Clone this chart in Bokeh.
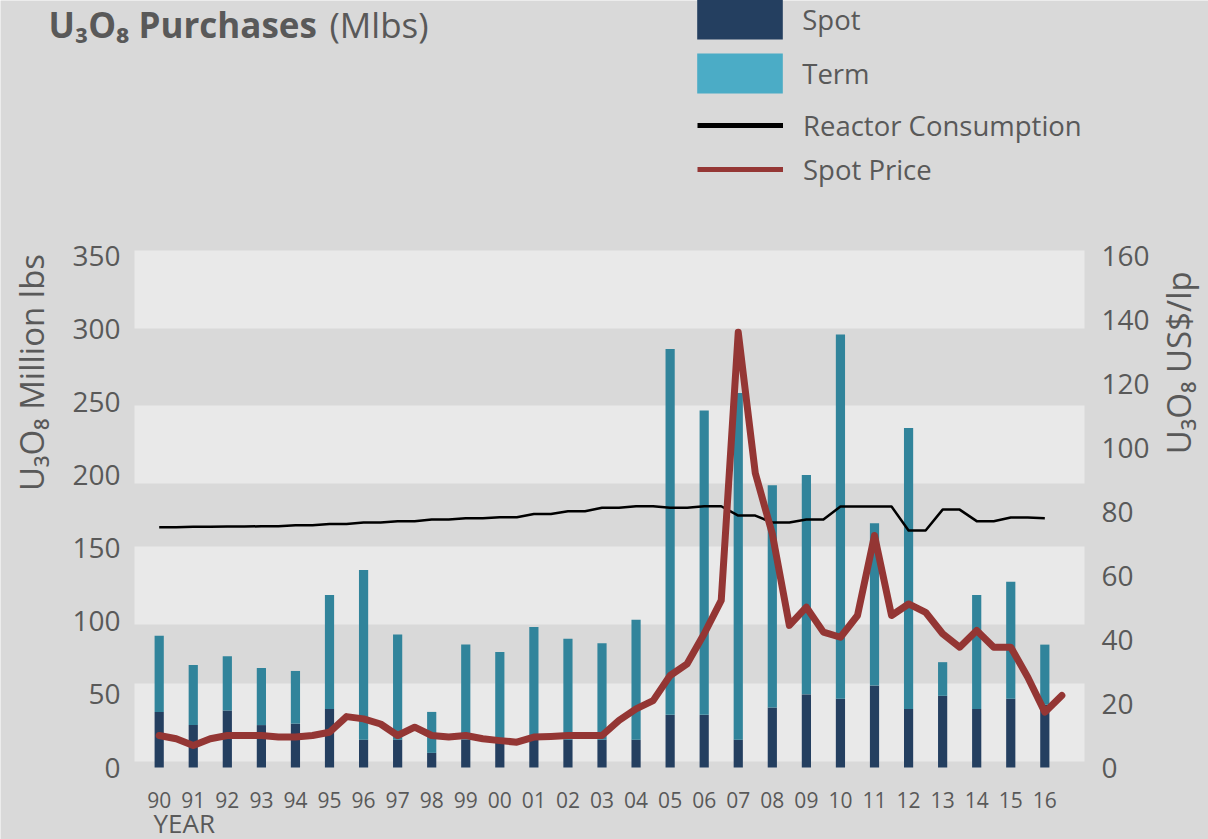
import math
import numpy as np
from bokeh.plotting import figure
from bokeh.models import Range1d, Label, Legend, LegendItem
from bokeh.embed import file_html
from bokeh.resources import INLINE

# ---------------- data ----------------
years = ["90", "91", "92", "93", "94", "95", "96", "97", "98", "99",
         "00", "01", "02", "03", "04", "05", "06", "07", "08", "09",
         "10", "11", "12", "13", "14", "15", "16"]
spot = [38, 29, 39, 29, 30, 40, 19, 19, 10, 19,
        17, 19, 19, 19, 19, 36, 36, 19, 41, 50,
        47, 56, 40, 49, 40, 47, 43]
term = [52, 41, 37, 39, 36, 78, 116, 72, 28, 65,
        62, 77, 69, 66, 82, 250, 208, 237, 152, 150,
        249, 111, 192, 23, 78, 80, 41]
reactor = [164.2, 164.5, 164.7, 164.9, 165.6, 166.5, 167.5, 168.4, 169.5, 170.4,
           171.1, 173.3, 175.2, 177.5, 178.6, 177.5, 178.6, 172.2, 167.5, 169.5,
           178.4, 178.4, 162.0, 176.3, 168.4, 170.9, 170.4]
# spot price, half-yearly (90.0, 90.5, ... 16.5), US$/lb
spot_price = [10.0, 9.0, 6.9, 9.0, 10.0, 10.0, 10.0, 9.5, 9.5, 10.0,
              11.0, 15.9, 15.2, 13.6, 10.0, 12.6, 10.0, 9.5, 10.0, 9.0,
              8.4, 7.9, 9.5, 9.7, 10.0, 10.0, 10.0, 14.7, 18.3, 20.9,
              28.75, 32.4, 41.8, 52.2, 136.0, 92.0, 73.0, 44.4, 50.1, 42.3,
              40.7, 47.5, 72.5, 47.5, 51.1, 48.5, 41.8, 37.6, 42.8, 37.6,
              37.6, 28.2, 17.3, 22.5]
left_ticks = [0, 50, 100, 150, 200, 250, 300, 350]
right_ticks = [0, 20, 40, 60, 80, 100, 120, 140, 160]

# ---------------- styling / layout ----------------
BG = "#d9d9d9"
BAND_LIGHT = "#e9e9e9"
TXT = "#595959"
SPOT_C = "#243f60"
TERM_C = "#31849b"
TERM_LEG = "#4bacc6"
PRICE_C = "#943634"
FONT = "Open Sans"

W, H = 1208, 839
XS, XE = -0.725, 27.165            # category span of the plotting area
FL, FR, FT, FB = 134, 1084, 255, 767  # plotting area in page px
DX = (FR - FL) / (XE - XS)          # px per category
DYL = (FB - FT) / 350.0             # px per Mlbs
DYR = (FB - FT) / 160.0             # px per US$

def px2x(px):
    return XS + (px - FL) / DX

def py2y(py):
    return (FB - py) / DYL

p = figure(width=W, height=H, x_axis_type=None, y_axis_type=None,
           x_range=Range1d(px2x(0), px2x(W)), y_range=Range1d(py2y(H), py2y(0)),
           output_backend="svg", toolbar_location=None, min_border=0)
p.extra_y_ranges = {"price": Range1d((FB - H) / DYR, FB / DYR)}
p.background_fill_color = BG
p.border_fill_color = BG
p.outline_line_color = None

# light background bands of the plotting area (page px edges of the light bands)
band_top_px = [250, 405, 546, 683]
band_bot_px = [328, 483, 624, 761]
p.quad(left=XS, right=XE, top=[py2y(v) for v in band_top_px],
       bottom=[py2y(v) for v in band_bot_px], fill_color=BAND_LIGHT, line_color=None)

idx = np.arange(len(years))
spot_a = np.array(spot, dtype=float)
term_a = np.array(term, dtype=float)

p.vbar(x=idx, bottom=0, top=spot_a, width=0.27, fill_color=SPOT_C, line_color=None)
p.vbar(x=idx, bottom=spot_a, top=spot_a + term_a, width=0.27, fill_color=TERM_C, line_color=None)

# reactor consumption: each yearly value held for half a category
rx, ry = [], []
for i, v in enumerate(reactor):
    rx.append(i)
    ry.append(v)
    if i < len(reactor) - 1:
        rx.append(i + 0.5)
        ry.append(v)
p.line(rx, ry, line_color="black", line_width=2.5, line_join="round")

px_half = [i * 0.5 for i in range(len(spot_price))]
p.line(px_half, spot_price, line_color=PRICE_C, line_width=7, line_join="round",
       line_cap="round", y_range_name="price")

# texts
def add_label(text, x, y, size, bold=False, angle=0.0, align="left", yr="default"):
    p.add_layout(Label(x=x, y=y, text=text, angle=angle, y_range_name=yr,
                       text_font=FONT, text_font_size=size, text_color=TXT,
                       text_font_style="bold" if bold else "normal",
                       text_align=align, text_baseline="middle"))

# tick labels
for i, yr_lab in enumerate(years):
    add_label(yr_lab, i, py2y(799), "21px", align="center")
for t in left_ticks:
    add_label(str(t), px2x(120), t, "28px", align="right")
for t in right_ticks:
    add_label(str(t), px2x(1101), t, "28px", align="left", yr="price")

add_label("U\u2083O\u2088 Purchases", px2x(48), py2y(24), "35px", bold=True)
add_label("(Mlbs)", px2x(329), py2y(24), "35px")
add_label("U\u2083O\u2088 Million lbs", px2x(31), py2y(372), "33px", angle=math.pi / 2, align="center")
add_label("U\u2083O\u2088  US$/lp", px2x(1178), py2y(358), "33px", angle=math.pi / 2, align="center")
add_label("YEAR", px2x(153), py2y(822), "26px")

# legends (renderers with a single NaN point only carry legend styling)
nan = float("nan")
r_spot = p.vbar(x=[nan], top=[nan], width=0.27, fill_color=SPOT_C, line_color=None)
r_term = p.vbar(x=[nan], top=[nan], width=0.27, fill_color=TERM_LEG, line_color=None)
r_reac = p.line(x=[nan], y=[nan], line_color="black", line_width=5)
r_price = p.line(x=[nan], y=[nan], line_color="#953735", line_width=5)

leg1 = Legend(items=[LegendItem(label="Spot", renderers=[r_spot]),
                     LegendItem(label="Term", renderers=[r_term])],
              location=(686.25, H - 98), orientation="vertical",
              glyph_width=107, glyph_height=50, spacing=4, padding=0, margin=0,
              label_standoff=9, border_line_color=None, background_fill_alpha=0,
              label_text_font=FONT, label_text_font_size="27.5px", label_text_color=TXT)
leg2 = Legend(items=[LegendItem(label="Reactor Consumption", renderers=[r_reac]),
                     LegendItem(label="Spot Price", renderers=[r_price])],
              location=(697, H - 189), orientation="vertical",
              glyph_width=86, glyph_height=40, spacing=4, padding=0, margin=0,
              label_standoff=20, border_line_color=None, background_fill_alpha=0,
              label_text_font=FONT, label_text_font_size="27.5px", label_text_color=TXT)
p.add_layout(leg1)
p.add_layout(leg2)

open("out.html", "w").write(file_html(p, INLINE))
